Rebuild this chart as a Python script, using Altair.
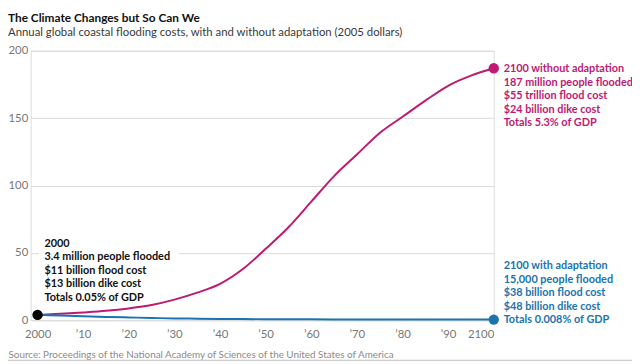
import altair as alt
import pandas as pd

FONT = "Lato"

years = [2000, 2005, 2010, 2015, 2020, 2025, 2030, 2035, 2040, 2045, 2050,
         2055, 2060, 2065, 2070, 2075, 2080, 2085, 2090, 2095, 2100]
without_adapt = [4, 4.8, 5.8, 7.0, 8.8, 11.3, 15.3, 20.5, 27, 38, 53,
                 69, 88, 107, 123, 139, 151, 163, 174, 181.5, 187]
with_adapt = [4, 3.5, 3.0, 2.5, 2.1, 1.7, 1.4, 1.2, 1.0, 0.9, 0.8,
              0.75, 0.7, 0.65, 0.6, 0.6, 0.55, 0.55, 0.5, 0.5, 0.5]

x_ticks = [2000, 2010, 2020, 2030, 2040, 2050, 2060, 2070, 2080, 2090, 2100]
x_labels = ["2000", "’10", "’20", "’30", "’40", "’50", "’60", "’70", "’80", "’90", "2100"]
y_ticks = [0, 50, 100, 150, 200]

MAGENTA = "#be1a72"
BLUE = "#1b74ad"

rows = []
for yr, a, b in zip(years, without_adapt, with_adapt):
    rows.append({"year": yr, "value": a, "series": "without"})
    rows.append({"year": yr, "value": b, "series": "with"})
df = pd.DataFrame(rows)

label_expr = "''"
for v, l in reversed(list(zip(x_ticks, x_labels))):
    label_expr = f"datum.value == {v} ? '{l}' : ({label_expr})"

x_scale = alt.Scale(domain=[1998.5, 2100], nice=False, zero=False)
y_scale = alt.Scale(domain=[0, 200], nice=False)

x_enc = alt.X(
    "year:Q", scale=x_scale,
    axis=alt.Axis(
        values=x_ticks, labelExpr=label_expr, grid=False, domain=False, ticks=False,
        labelColor="#777777", labelFontSize=11.5, labelFont=FONT, labelPadding=8,
        title="Source: Proceedings of the National Academy of Sciences of the United States of America",
        titleFont=FONT, titleFontSize=10, titleFontWeight="normal", titleColor="#8a8a8a",
        titleAnchor="start", titleAlign="left", titleX=-23, titleY=38,
        titleBaseline="alphabetic",
    ),
)
y_enc = alt.Y(
    "value:Q", scale=y_scale,
    axis=alt.Axis(
        values=y_ticks, grid=True, gridColor="#d9d9d9", gridWidth=1, domain=False, ticks=False,
        labelColor="#777777", labelFontSize=11.5, labelFont=FONT, labelPadding=3, title=None,
    ),
)

box = pd.DataFrame({"x": [2000.3], "x2": [2031], "y": [12], "y2": [62]})
box_layer = alt.Chart(box).mark_rect(color="white").encode(
    x=alt.X("x:Q", scale=x_scale), x2="x2:Q", y=alt.Y("y:Q", scale=y_scale), y2="y2:Q"
)

lines = alt.Chart(df).mark_line(strokeWidth=2, interpolate="monotone").encode(
    x=x_enc, y=y_enc,
    color=alt.Color("series:N", scale=alt.Scale(domain=["without", "with"], range=[MAGENTA, BLUE]), legend=None),
)

dots_df = pd.DataFrame({
    "year": [years[0], years[-1], years[-1]],
    "value": [without_adapt[0], without_adapt[-1], with_adapt[-1]],
    "c": ["#000000", MAGENTA, BLUE],
})
dots = alt.Chart(dots_df).mark_circle(size=110, opacity=1).encode(
    x=alt.X("year:Q", scale=x_scale), y=alt.Y("value:Q", scale=y_scale),
    color=alt.Color("c:N", scale=None),
)

txt_start = "2000\n3.4 million people flooded\n$11 billion flood cost\n$13 billion dike cost\nTotals 0.05% of GDP"
txt_without = "2100 without adaptation\n187 million people flooded\n$55 trillion flood cost\n$24 billion dike cost\nTotals 5.3% of GDP"
txt_with = "2100 with adaptation\n15,000 people flooded\n$38 billion flood cost\n$48 billion dike cost\nTotals 0.008% of GDP"


def note(x, y, text, color, dx, dy):
    d = pd.DataFrame({"year": [x], "value": [y], "t": [text]})
    return alt.Chart(d).mark_text(
        align="left", baseline="top", dx=dx, dy=dy, lineBreak="\n", lineHeight=13.7,
        font=FONT, fontSize=11, fontWeight="bold", color=color,
    ).encode(x=alt.X("year:Q", scale=x_scale), y=alt.Y("value:Q", scale=y_scale), text="t:N")


notes = [
    note(years[0], without_adapt[0], txt_start, "#111111", 7, -78),
    note(years[-1], without_adapt[-1], txt_without, MAGENTA, 10, -5),
    note(years[-1], with_adapt[-1], txt_with, BLUE, 10, -60),
]

# thin frame line at the very bottom of the graphic
frame_line = alt.Chart(pd.DataFrame({"k": [0]})).mark_rule(color="#bdbdbd", strokeWidth=1).encode(
    x=alt.value(-23), x2=alt.value(609), y=alt.value(313.5)
)

chart = alt.layer(box_layer, lines, dots, *notes, frame_line).properties(
    width=469, height=273,
    autosize=alt.AutoSizeParams(type="none"),
    padding={"left": 23, "top": 41, "right": 140, "bottom": 42},
    title=alt.Title(
        "The Climate Changes but So Can We",
        subtitle="Annual global coastal flooding costs, with and without adaptation (2005 dollars)",
        anchor="start", frame="group", dx=-23, offset=5,
        font=FONT, fontSize=12, fontWeight="bold", color="#111111",
        subtitleFont=FONT, subtitleFontSize=11.5, subtitleColor="#3a3a3a", subtitlePadding=3,
    ),
).configure_view(stroke=None).configure(background="white")

chart.save("out.html", embed_options={"renderer": "svg", "actions": False})
